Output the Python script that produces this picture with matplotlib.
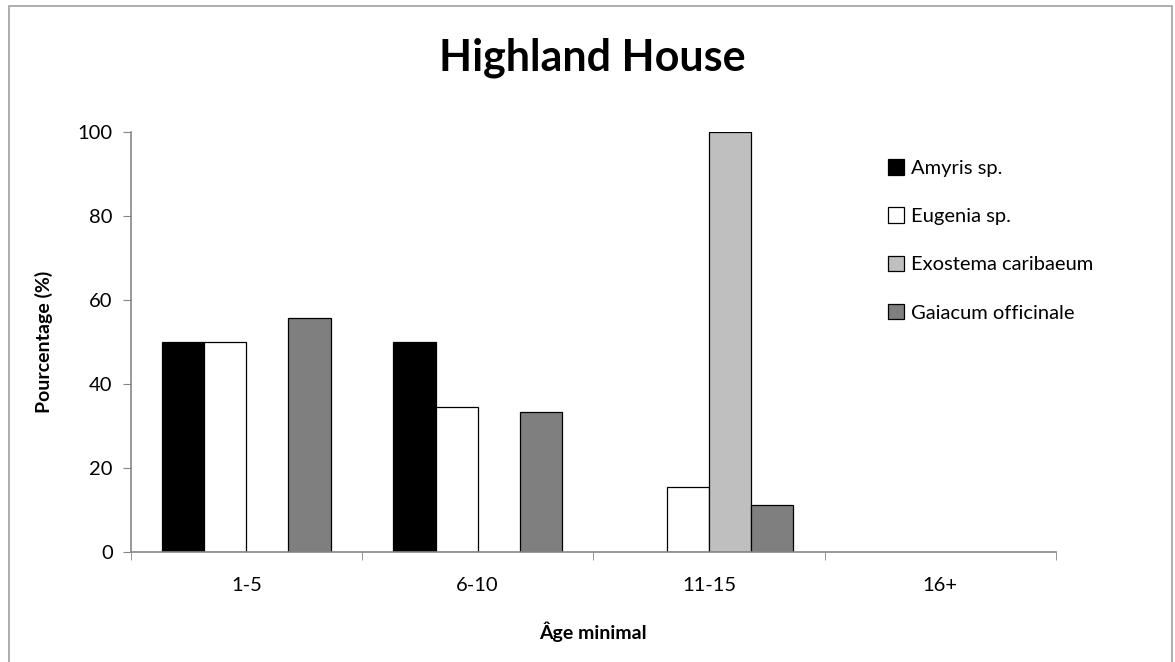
import numpy as np
import matplotlib.pyplot as plt
from matplotlib.patches import Rectangle, Patch

plt.rcParams['font.family'] = ['Lato', 'DejaVu Sans']

categories = ["1-5", "6-10", "11-15", "16+"]
series_names = ["Amyris sp.", "Eugenia sp.", "Exostema caribaeum", "Gaiacum officinale"]
amyris = [50, 50, 0, 0]
eugenia = [50, 34.6, 15.4, 0]
exostema = [0, 0, 100, 0]
gaiacum = [55.6, 33.3, 11.1, 0]
colors = ["#000000", "#FFFFFF", "#BFBFBF", "#7F7F7F"]

fig = plt.figure(figsize=(11.75, 6.62), dpi=100)
ax = fig.add_axes([130.7 / 1175, 1 - 552 / 662, (1056 - 130.7) / 1175, (552 - 132) / 662])

x = np.arange(len(categories))
w = 0.182
for i, (vals, c) in enumerate(zip([amyris, eugenia, exostema, gaiacum], colors)):
    bars = ax.bar(x + (i - 1.5) * w, vals, w, color=c, edgecolor="black", linewidth=0.9, zorder=2)
    for b, v in zip(bars, vals):
        if v == 0:
            b.set_linewidth(0)

ax.set_xlim(-0.5, len(categories) - 0.5)
ax.set_ylim(0, 100)
ax.set_yticks(range(0, 101, 20))
ax.set_xticks(x)
ax.set_xticklabels(categories)
ax.set_xticks(np.arange(-0.5, len(categories)), minor=True)
ax.tick_params(axis="x", which="major", length=0, pad=18, labelsize=14.5)
ax.tick_params(axis="x", which="minor", length=6, color="#868686", direction="out")
ax.tick_params(axis="y", length=6, color="#868686", labelsize=14.5, pad=7)

for s in ["top", "right"]:
    ax.spines[s].set_visible(False)
for s in ["left", "bottom"]:
    ax.spines[s].set_color("#868686")
    ax.spines[s].set_linewidth(1.2)

ax.set_xlabel("Âge minimal", fontsize=14, fontweight="bold", labelpad=20)
ax.set_ylabel("Pourcentage (%)", fontsize=14, fontweight="bold", labelpad=18)
fig.text(592 / 1175, 1 - 58 / 662, "Highland House", ha="center", va="center",
         fontsize=31, fontweight="bold")

handles = [Patch(facecolor=c, edgecolor="black", linewidth=0.9) for c in colors]
ax.legend(handles, series_names, loc="upper left", bbox_to_anchor=(870 / 1175, 1 - 141 / 662),
          bbox_transform=fig.transFigure, frameon=False, fontsize=14.5,
          handlelength=0.8, handleheight=0.8, handletextpad=0.35, labelspacing=1.52)

fig.patches.append(Rectangle((9 / 1175, -0.05), (1172 - 9) / 1175, 1.05 - 6 / 662,
                             transform=fig.transFigure, fill=False, edgecolor="#A0A0A0",
                             linewidth=1.2))

fig.savefig("out.png", dpi=100)
